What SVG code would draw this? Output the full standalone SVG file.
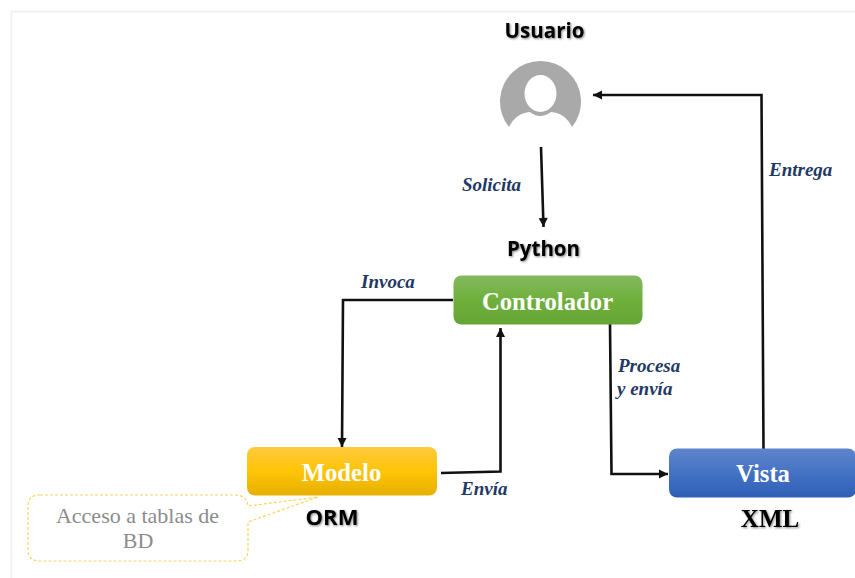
<svg xmlns="http://www.w3.org/2000/svg" width="855" height="578" viewBox="0 0 855 578">
<style>
.ttl{font-family:"Open Sans","Liberation Sans",sans-serif;font-weight:700;font-size:20.500px;fill:#000;text-anchor:middle;filter:url(#sh)}
.box{font-family:"Liberation Serif",serif;font-weight:700;font-size:24.700px;fill:#fff;text-anchor:middle}
.lab{font-family:"Liberation Serif",serif;font-weight:700;font-style:italic;font-size:19px;fill:#1f3864}
.con{fill:none;stroke:#111;stroke-width:2.600;marker-end:url(#ah)}
.not{font-family:"Liberation Serif",serif;font-size:22px;fill:#8c8c8c;text-anchor:middle}
</style>
<defs>
<marker id="ah" markerUnits="userSpaceOnUse" markerWidth="12" markerHeight="12" refX="10" refY="6" orient="auto"><path d="M1 1.500L10 6L1 10.500z" fill="#111"/></marker>
<filter id="sh" x="-10%" y="-20%" width="120%" height="150%"><feDropShadow dx="1" dy="1" stdDeviation="0.8" flood-color="#000" flood-opacity="0.5"/></filter>
<linearGradient id="g" x1="0" y1="0" x2="0" y2="1"><stop offset="0" stop-color="#84b95f"/><stop offset="0.5" stop-color="#6fb03c"/><stop offset="1" stop-color="#64a535"/></linearGradient>
<linearGradient id="y" x1="0" y1="0" x2="0" y2="1"><stop offset="0" stop-color="#ffca3e"/><stop offset="0.5" stop-color="#ffc406"/><stop offset="1" stop-color="#e5b000"/></linearGradient>
<linearGradient id="b" x1="0" y1="0" x2="0" y2="1"><stop offset="0" stop-color="#5f85cb"/><stop offset="0.5" stop-color="#4472c4"/><stop offset="1" stop-color="#2f5fb5"/></linearGradient>
</defs>
<rect width="855" height="578" fill="#fff"/>
<path d="M11.500 578V11.500H855" fill="none" stroke="#f2f2f2" stroke-width="2"/>
<g id="connectors">
<path class="con" d="M541 147L543.500 227"/>
<path class="con" d="M763.500 449L761.500 95H593"/>
<path class="con" d="M453 300H343L342 447"/>
<path class="con" d="M441 473L500.500 471.500V328"/>
<path class="con" d="M610 324L611.500 474H668"/>
</g>
<g id="usuario">
<text class="ttl" x="544.500" y="38">Usuario</text>
<path d="M509 127A40.500 40.500 0 1 1 572 127Q565 113 551 112Q540 120 530 112Q516 113 509 127Z" fill="#a9a9a9"/>
<ellipse cx="540.500" cy="93.500" rx="16" ry="18.500" fill="#fff"/>
</g>
<g id="controlador">
<text class="ttl" x="543.500" y="256">Python</text>
<rect x="453.500" y="275.500" width="189" height="49" rx="8" fill="url(#g)"/>
<text class="box" x="547.500" y="310">Controlador</text>
</g>
<g id="modelo">
<rect x="247" y="447" width="190" height="48.500" rx="8" fill="url(#y)"/>
<text class="box" x="341.500" y="481">Modelo</text>
<text class="ttl" style="font-size:22px" x="332" y="525">ORM</text>
</g>
<g id="vista">
<rect x="669" y="448.500" width="187" height="49" rx="8" fill="url(#b)"/>
<text class="box" x="763" y="482">Vista</text>
<text class="ttl" style="font-family:'Liberation Serif',serif;font-size:25px" x="770" y="527">XML</text>
</g>
<g id="nota">
<path d="M40 495H235Q247 495 248 506L318 497L248 522V550Q248 561 236 561H40Q28 561 28 550V506Q28 495 40 495Z" fill="#fff" stroke="#ffd35c" stroke-width="1.200" stroke-dasharray="3 2"/>
<text class="not" x="137.500" y="523">Acceso a tablas de</text>
<text class="not" x="138" y="548">BD</text>
</g>
<g id="etiquetas">
<text class="lab" x="462" y="191">Solicita</text>
<text class="lab" x="769" y="176">Entrega</text>
<text class="lab" x="361" y="288">Invoca</text>
<text class="lab" x="618" y="372">Procesa</text>
<text class="lab" x="617" y="395">y envía</text>
<text class="lab" x="461" y="495">Envía</text>
</g>
</svg>
